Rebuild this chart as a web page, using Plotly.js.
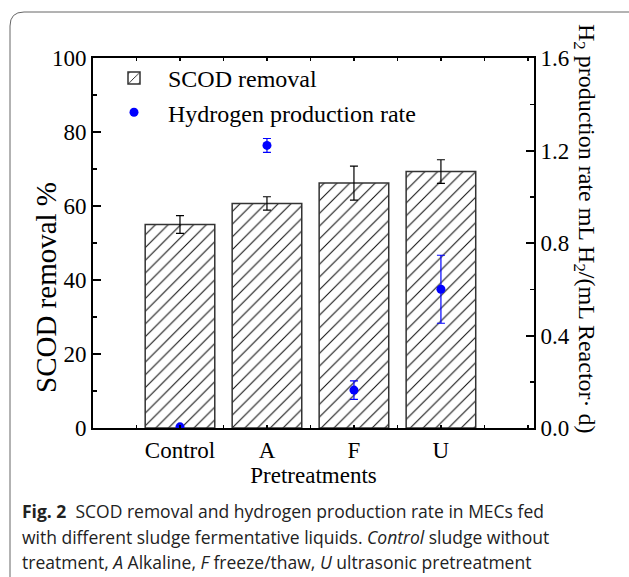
<!DOCTYPE html>
<html>
<head>
<meta charset="utf-8">
<script src="https://cdn.plot.ly/plotly-3.0.1.min.js"></script>
<style>html,body{margin:0;padding:0;background:#fff;}#chart{width:629px;height:577px;}</style>
</head>
<body>
<div id="chart"></div>
<script>
const categories = ["Control", "A", "F", "U"];
const scodRemoval = [55.0, 60.7, 66.2, 69.3];
const scodError = [2.4, 1.8, 4.6, 3.2];
const h2Rate = [0.005, 1.222, 0.164, 0.600];
const h2Error = [0.0, 0.03, 0.04, 0.147];
const leftTicks = [0, 20, 40, 60, 80, 100];
const rightTicks = [0.0, 0.4, 0.8, 1.2, 1.6];

const W = 629, H = 577;
const L = 93, R = 534, T = 58, B = 428;
const px = x => (x - L) / (R - L);
const py = y => (B - y) / (B - T);

const serif = "Liberation Serif, Times New Roman, serif";
const sans = "Open Sans, Noto Sans, sans-serif";
const catIndex = categories.map((c, i) => i);

const traces = [
  {
    type: "bar", name: "SCOD removal", x: catIndex, y: scodRemoval,
    width: 0.8,
    marker: {color: "white", line: {color: "#333", width: 1.5},
      pattern: {shape: "/", size: 9, solidity: 0.12, fgcolor: "#111", bgcolor: "white"}},
    error_y: {type: "data", array: scodError, visible: true, color: "#000", thickness: 1.2, width: 4},
    xaxis: "x", yaxis: "y"
  },
  {
    type: "scatter", mode: "markers", name: "Hydrogen production rate", x: catIndex, y: h2Rate,
    marker: {color: "#0000ff", size: 9},
    error_y: {type: "data", array: h2Error, visible: true, color: "#0000ff", thickness: 1.2, width: 4},
    xaxis: "x", yaxis: "y2"
  }
];

const captionLines = [
  "<b>Fig. 2</b>  SCOD removal and hydrogen production rate in MECs fed",
  "with different sludge fermentative liquids. <i>Control</i> sludge without",
  "treatment, <i>A</i> Alkaline, <i>F</i> freeze/thaw, <i>U</i> ultrasonic pretreatment"
];
const captionY = [511, 537, 562];

const annotations = captionLines.map((t, i) => ({
  text: t, xref: "paper", yref: "paper", x: px(20), y: py(captionY[i]),
  xanchor: "left", yanchor: "middle", showarrow: false,
  font: {family: sans, size: 17.5, color: "#222"}
}));
annotations.push({
  text: "H<sub>2</sub> production rate mL H<sub>2</sub>/(mL Reactor· d)",
  xref: "paper", yref: "paper", x: px(585), y: py(229), textangle: 90,
  xanchor: "center", yanchor: "middle", showarrow: false,
  font: {family: serif, size: 24, color: "#000"}
});
annotations.push({
  text: "SCOD removal %",
  xref: "paper", yref: "paper", x: px(46), y: py(288), textangle: -90,
  xanchor: "center", yanchor: "middle", showarrow: false,
  font: {family: serif, size: 29, color: "#000"}
});

const frameColor = "#666";
const shapes = [{
  type: "path", xref: "paper", yref: "paper",
  path: `M ${px(10)},${py(577)} L ${px(10)},${py(26)} Q ${px(10)},${py(12)} ${px(24)},${py(12)} L ${px(629)},${py(12)}`,
  line: {color: frameColor, width: 1}
}];

const layout = {
  width: W, height: H,
  margin: {l: L, r: W - R, t: T, b: H - B},
  paper_bgcolor: "white", plot_bgcolor: "white",
  showlegend: true,
  legend: {x: px(100), y: py(56), xanchor: "left", yanchor: "top", itemwidth: 58,
    font: {family: serif, size: 24, color: "#000"}, bgcolor: "rgba(0,0,0,0)", tracegroupgap: 0},
  xaxis: {
    range: [-1, 4.07], tickvals: catIndex, ticktext: categories,
    showline: true, linecolor: "#000", linewidth: 2, mirror: "ticks",
    ticks: "inside", ticklen: 3, tickwidth: 1.5, tickcolor: "#000",
    minor: {dtick: 0.5, tick0: 0, ticks: "inside", ticklen: 3, tickwidth: 1.5, tickcolor: "#000"},
    showgrid: false, zeroline: false,
    tickfont: {family: serif, size: 23, color: "#000"},
    title: {text: "Pretreatments", font: {family: serif, size: 23, color: "#000"}, standoff: 2}
  },
  yaxis: {
    range: [0, 100], tickvals: leftTicks, ticktext: leftTicks.map(String),
    ticks: "inside", ticklen: 8, tickwidth: 2, tickcolor: "#000",
    minor: {dtick: 10, ticks: "inside", ticklen: 4, tickwidth: 1.5, tickcolor: "#000"},
    showline: true, linecolor: "#000", linewidth: 2, showgrid: false, zeroline: false,
    tickfont: {family: serif, size: 23, color: "#000"}
  },
  yaxis2: {
    overlaying: "y", side: "right", range: [0, 1.6], tickvals: rightTicks, ticktext: rightTicks.map(v => v.toFixed(1)),
    ticks: "inside", ticklen: 8, tickwidth: 2, tickcolor: "#000",
    minor: {dtick: 0.2, ticks: "inside", ticklen: 4, tickwidth: 1.5, tickcolor: "#000"},
    showline: true, linecolor: "#000", linewidth: 2, showgrid: false, zeroline: false,
    tickfont: {family: serif, size: 23, color: "#000"}
  },
  annotations: annotations,
  shapes: shapes
};

Plotly.newPlot("chart", traces, layout, {displayModeBar: false, staticPlot: true});
</script>
</body>
</html>
